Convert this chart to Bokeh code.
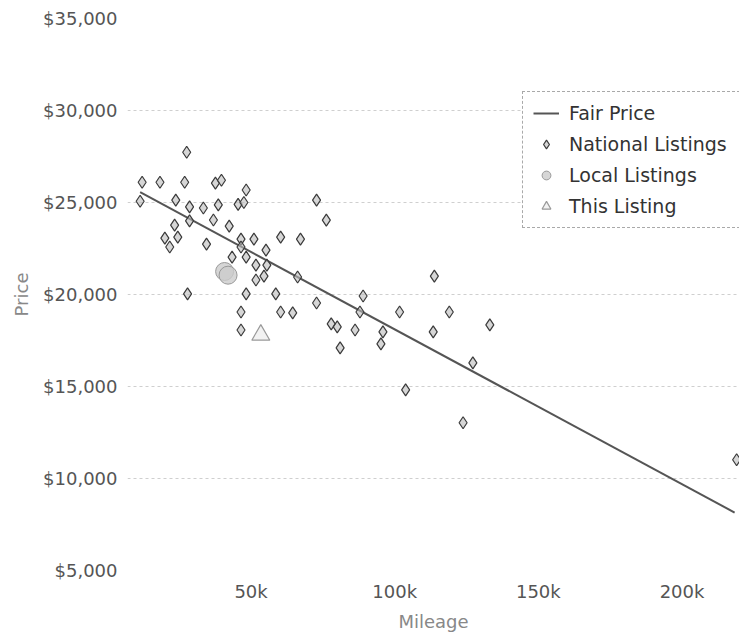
from bokeh.plotting import figure
from bokeh.models import (Range1d, FixedTicker, NumeralTickFormatter, Legend, LegendItem)
from bokeh.embed import file_html
from bokeh.resources import INLINE

# ---- data ----
national_mileage = [27600, 12100, 18300, 26900, 37600, 39700, 48300, 11400, 23800, 28600,
                    33400, 38600, 45500, 47500, 72800, 76200, 28600, 36900, 23400, 42400,
                    20000, 24500, 21700, 34500, 46500, 51000, 60300, 67200, 46500, 55200,
                    43400, 48300, 51700, 55500, 51700, 54500, 66200, 27900, 48300, 58600,
                    72800, 46500, 60300, 64500, 77900, 80000, 86200, 46500, 81000, 89000,
                    87900, 95900, 95200, 101700, 113800, 119000, 113400, 133100, 127200, 103800,
                    123800, 219000]
national_price = [27730, 26100, 26100, 26100, 26050, 26210, 25680, 25070, 25130, 24760,
                  24700, 24870, 24900, 25000, 25130, 24040, 24000, 24050, 23770, 23720,
                  23060, 23120, 22580, 22740, 23010, 23010, 23120, 23010, 22580, 22410,
                  22030, 22030, 21600, 21600, 20790, 21000, 20950, 20030, 20030, 20030,
                  19540, 19050, 19050, 19000, 18400, 18240, 18070, 18070, 17100, 19920,
                  19050, 17970, 17320, 19050, 21000, 19050, 17970, 18350, 16280, 14820,
                  13030, 11020]
local_mileage = [40800, 42000]
local_price = [21250, 21050]
this_mileage = [53400]
this_price = [17800]
fair_mileage = [11400, 218300]
fair_price = [25560, 8150]

y_ticks = [5000, 10000, 15000, 20000, 25000, 30000, 35000]
x_ticks = [50000, 100000, 150000, 200000]
x_tick_labels = ["50k", "100k", "150k", "200k"]

FONT = "DejaVu Sans"

p = figure(width=739, height=634, output_backend="svg", toolbar_location=None,
           x_range=Range1d(7000, 220000), y_range=Range1d(5000, 35000),
           min_border_left=127, min_border_right=0, min_border_top=18, min_border_bottom=63)
p.outline_line_color = None
p.background_fill_color = "white"

# axes
p.xaxis.ticker = FixedTicker(ticks=x_ticks)
p.xaxis.major_label_overrides = {t: l for t, l in zip(x_ticks, x_tick_labels)}
p.yaxis.ticker = FixedTicker(ticks=y_ticks)
p.yaxis.formatter = NumeralTickFormatter(format="$0,0")
for ax in (p.xaxis[0], p.yaxis[0]):
    ax.axis_line_color = None
    ax.major_tick_line_color = None
    ax.minor_tick_line_color = None
    ax.major_tick_out = 0
    ax.major_tick_in = 0
    ax.minor_tick_out = 0
    ax.minor_tick_in = 0
    ax.major_label_text_font = FONT
    ax.major_label_text_font_size = "18px"
    ax.major_label_text_color = "#555555"
    ax.axis_label_text_font = FONT
    ax.axis_label_text_font_size = "18px"
    ax.axis_label_text_font_style = "normal"
    ax.axis_label_text_color = "#888888"
    ax.major_label_standoff = 10
p.xaxis.axis_label = "Mileage"
p.yaxis.axis_label = "Price"
p.xaxis.axis_label_standoff = 6
p.yaxis.axis_label_standoff = 8

p.xgrid.grid_line_color = None
p.ygrid.grid_line_color = "#cfcfcf"
p.ygrid.grid_line_dash = "3 3"
p.ygrid.grid_line_width = 1

# glyphs
r_fair = p.line(fair_mileage, fair_price, line_color="#555555", line_width=2)
r_nat = p.scatter(national_mileage, national_price, marker="diamond", size=12,
                  fill_color="#bbbbbb", fill_alpha=0.6, line_color="#3a3a3a", line_width=1.2)
r_loc = p.scatter(local_mileage, local_price, marker="circle", size=18,
                  fill_color="#cccccc", fill_alpha=0.8, line_color="#999999", line_width=1)
r_this = p.scatter(this_mileage, this_price, marker="triangle", size=18,
                   fill_color="#f2f2f2", line_color="#999999", line_width=1.2)

legend = Legend(items=[
    LegendItem(label="Fair Price", renderers=[r_fair]),
    LegendItem(label="National Listings", renderers=[r_nat]),
    LegendItem(label="Local Listings", renderers=[r_loc]),
    LegendItem(label="This Listing", renderers=[r_this]),
], location=(395, 342))
legend.label_text_font = FONT
legend.label_text_font_size = "19px"
legend.label_text_color = "#333333"
legend.border_line_color = "#555555"
legend.border_line_dash = "2 2"
legend.border_line_width = 1
legend.background_fill_color = "white"
legend.background_fill_alpha = 1
legend.padding = 10
legend.spacing = 9
legend.glyph_width = 26
legend.glyph_height = 22
legend.label_height = 22
legend.label_width = 160
legend.label_standoff = 10
legend.margin = 0
p.add_layout(legend)

open("out.html", "w").write(file_html(p, INLINE))
